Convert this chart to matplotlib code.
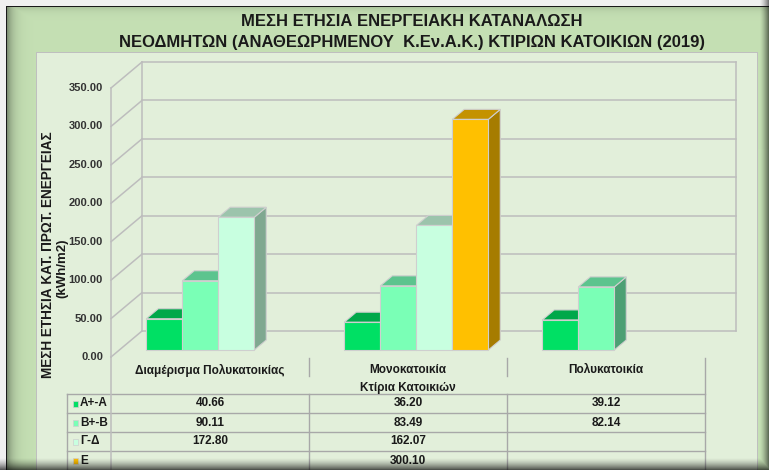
import numpy as np
import matplotlib
matplotlib.use("Agg")
import matplotlib.pyplot as plt
from matplotlib import font_manager
from matplotlib.patches import Polygon, Rectangle

# --- data -------------------------------------------------------------
categories = ["Διαμέρισμα Πολυκατοικίας", "Μονοκατοικία", "Πολυκατοικία"]
series_names = ["Α+-Α", "Β+-Β", "Γ-Δ", "Ε"]
vals_a = [40.66, 36.20, 39.12]
vals_b = [90.11, 83.49, 82.14]
vals_gd = [172.80, 162.07, np.nan]
vals_e = [np.nan, 300.10, np.nan]
y_ticks = [0, 50, 100, 150, 200, 250, 300, 350]

title_lines = ["ΜΕΣΗ ΕΤΗΣΙΑ ΕΝΕΡΓΕΙΑΚΗ ΚΑΤΑΝΑΛΩΣΗ",
               "ΝΕΟΔΜΗΤΩΝ (ΑΝΑΘΕΩΡΗΜΕΝΟΥ  Κ.Εν.Α.Κ.) ΚΤΙΡΙΩΝ ΚΑΤΟΙΚΙΩΝ (2019)"]
y_title = ["ΜΕΣΗ ΕΤΗΣΙΑ ΚΑΤ. ΠΡΩΤ. ΕΝΕΡΓΕΙΑΣ", "(kWh/m2)"]
x_title = "Κτίρια Κατοικιών"

face_cols = ["#00e064", "#7affb6", "#c8ffe0", "#ffc000"]
top_cols = ["#00a84a", "#5cc48e", "#9cc4ac", "#c49200"]
side_cols = ["#009e44", "#4ca074", "#7fa890", "#a67c00"]


def pick_font(names):
    for n in names:
        try:
            font_manager.findfont(font_manager.FontProperties(family=n),
                                  fallback_to_default=False)
            return n
        except ValueError:
            pass
    return "DejaVu Sans"


NARROW = pick_font(["Liberation Sans Narrow", "Arial Narrow", "Liberation Sans"])
TXT = "#1a1a1a"
GRID = "#bdbdbd"

W, H = 769, 470


def build_background():
    img = np.ones((H, W, 3)) * np.array([240, 240, 240]) / 255
    green = np.array([197, 224, 180]) / 255
    img[7:, 7:] = green
    # inner shading of the green frame
    xs = np.arange(W)
    ys = np.arange(H)
    left = 0.36 * np.exp(-(xs - 7).clip(0) / 6.0)
    top = 0.12 * np.exp(-(ys - 7).clip(0) / 4.0)
    shade = 1 - np.maximum(left[None, :], top[:, None])
    img[7:, 7:] *= shade[7:, 7:, None]
    # plot area
    img[52:, 36:757] = np.array([226, 239, 218]) / 255
    img[52, 36:758] = np.array([191, 191, 191]) / 255
    img[52:, 36] = np.array([191, 191, 191]) / 255
    img[52:, 757] = np.array([191, 191, 191]) / 255
    # black border
    img[6, 6:] = 0.1
    img[6:, 6] = 0.1
    return img


def build_shadow():
    sh = np.zeros((H, W, 4))
    xs = np.arange(W)
    ys = np.arange(H)
    right = ((xs - 759) / 10.0).clip(0, 1) ** 1.5 * 0.6
    bottom = ((ys - 457) / 13.0).clip(0, 1) ** 1.5 * 0.72
    sh[..., 3] = np.maximum(right[None, :], bottom[:, None])
    return sh


fig = plt.figure(figsize=(W / 100, H / 100), dpi=100)
fig.patch.set_facecolor("#f0f0f0")

bg = fig.add_axes([0, 0, 1, 1], zorder=0)
bg.imshow(build_background(), extent=(0, W, H, 0), interpolation="nearest", aspect="auto")
bg.set_xlim(0, W)
bg.set_ylim(H, 0)
bg.axis("off")

# main (front plane) axes: categories on x, values on y
ax = fig.add_axes([111 / W, 113 / H, 594 / W, 269 / H], zorder=1)
ax.set_xlim(-0.5, 2.5)
ax.set_ylim(0, 350)
ax.axis("off")
ax.patch.set_visible(False)

px_x = 594 / 3.0
px_y = 269 / 350.0
DX = 31 / px_x       # full depth, in data units
DY = 26 / px_y
D0, D1 = 7 / 26, 17 / 26
BAR_W = 36 / px_x


def at_depth(x, y, d):
    return (x + d * DX, y + d * DY)


# walls and gridlines
for v in y_ticks:
    ax.plot([-0.5 + DX, 2.5 + DX], [v + DY, v + DY], color=GRID, lw=1.1, clip_on=False, zorder=1)
    ax.plot([-0.5, -0.5 + DX], [v, v + DY], color=GRID, lw=1.1, clip_on=False, zorder=1)
    ax.text(-0.5 - 8 / px_x, v, f"{v:.2f}", ha="right", va="center", fontsize=8,
            family=NARROW, fontweight="bold", color="#333333")
top_v = y_ticks[-1]
ax.plot([-0.5, -0.5], [0, top_v], color=GRID, lw=1.1, clip_on=False, zorder=1)
ax.plot([-0.5 + DX] * 2, [DY, top_v + DY], color=GRID, lw=1.1, clip_on=False, zorder=1)
ax.plot([2.5 + DX] * 2, [DY, top_v + DY], color=GRID, lw=1.1, clip_on=False, zorder=1)

# 3D bars
series = [vals_a, vals_b, vals_gd, vals_e]
z = 2
for ci in range(len(categories)):
    for si, vals in enumerate(series):
        v = vals[ci]
        if np.isnan(v):
            continue
        xc = ci + (si - 1.5) * BAR_W
        x0, x1 = xc - BAR_W / 2, xc + BAR_W / 2
        front = [at_depth(x0, 0, D0), at_depth(x1, 0, D0), at_depth(x1, v, D0), at_depth(x0, v, D0)]
        top = [at_depth(x0, v, D0), at_depth(x1, v, D0), at_depth(x1, v, D1), at_depth(x0, v, D1)]
        side = [at_depth(x1, 0, D0), at_depth(x1, 0, D1), at_depth(x1, v, D1), at_depth(x1, v, D0)]
        for poly, col in ((side, side_cols[si]), (top, top_cols[si]), (front, face_cols[si])):
            ax.add_patch(Polygon(poly, closed=True, facecolor=col, edgecolor="#cfcfcf",
                                 lw=0.8, clip_on=False, zorder=z))
        z += 1

# data table below the chart (y in pixels from top)
tab = fig.add_axes([111 / W, 0, 594 / W, 112 / H], zorder=1)
tab.set_xlim(-0.5, 2.5)
tab.set_ylim(470, 358)
tab.axis("off")
tab.patch.set_visible(False)

x_lab = -0.5 - 44 / px_x
row_top = 394
row_h = 19
row_edges = [row_top + i * row_h for i in range(len(series_names) + 1)]
LINE = "#a8a8a8"
for yy in row_edges:
    tab.plot([x_lab, 2.5], [yy, yy], color=LINE, lw=1, clip_on=False)
tab.plot([x_lab, x_lab], [row_top, 470], color=LINE, lw=1, clip_on=False)
tab.plot([-0.5, -0.5], [357, 470], color=GRID, lw=1.1, clip_on=False)
tab.plot([2.5, 2.5], [358, 470], color=LINE, lw=1, clip_on=False)
for xb in (0.5, 1.5):
    tab.plot([xb, xb], [358, 376], color=LINE, lw=1, clip_on=False)
    tab.plot([xb, xb], [row_top, 470], color=LINE, lw=1, clip_on=False)

for ci, name in enumerate(categories):
    tab.text(ci, 370, name, ha="center", va="center", fontsize=8.5, family=NARROW,
             fontweight="bold", color=TXT)
tab.text(1, 387.5, x_title, ha="center", va="center", fontsize=8.5, family=NARROW,
         fontweight="bold", color=TXT)

for si, (name, vals) in enumerate(zip(series_names, series)):
    yc = row_top + (si + 0.5) * row_h
    tab.add_patch(Rectangle((x_lab + 6 / px_x, yc - 3), 5 / px_x, 6, facecolor=face_cols[si],
                            edgecolor="#d0d0d0", lw=0.5, clip_on=False))
    tab.text(x_lab + 13 / px_x, yc, name, ha="left", va="center", fontsize=8.5,
             family=NARROW, fontweight="bold", color=TXT)
    for ci, v in enumerate(vals):
        if np.isnan(v):
            continue
        tab.text(ci, yc, f"{v:.2f}", ha="center", va="center", fontsize=8.5,
                 family=NARROW, fontweight="bold", color=TXT)

# titles
fig.text(412 / W, 1 - 21 / H, title_lines[0], ha="center", va="center", fontsize=12,
         family=NARROW, fontweight="bold", color=TXT, zorder=5)
fig.text(412 / W, 1 - 42 / H, title_lines[1], ha="center", va="center", fontsize=12,
         family=NARROW, fontweight="bold", color=TXT, zorder=5)
fig.text(48 / W, 1 - 255 / H, y_title[0], ha="center", va="center", rotation=90,
         fontsize=9.8, family=NARROW, fontweight="bold", color=TXT, zorder=5)
fig.text(62 / W, 1 - 268 / H, y_title[1], ha="center", va="center", rotation=90,
         fontsize=9.5, family=NARROW, fontweight="bold", color=TXT, zorder=5)

ov = fig.add_axes([0, 0, 1, 1], zorder=4)
ov.imshow(build_shadow(), extent=(0, W, H, 0), interpolation="bilinear", aspect="auto")
ov.set_xlim(0, W)
ov.set_ylim(H, 0)
ov.axis("off")
ov.patch.set_visible(False)

fig.savefig("out.png", dpi=100, facecolor=fig.get_facecolor())
